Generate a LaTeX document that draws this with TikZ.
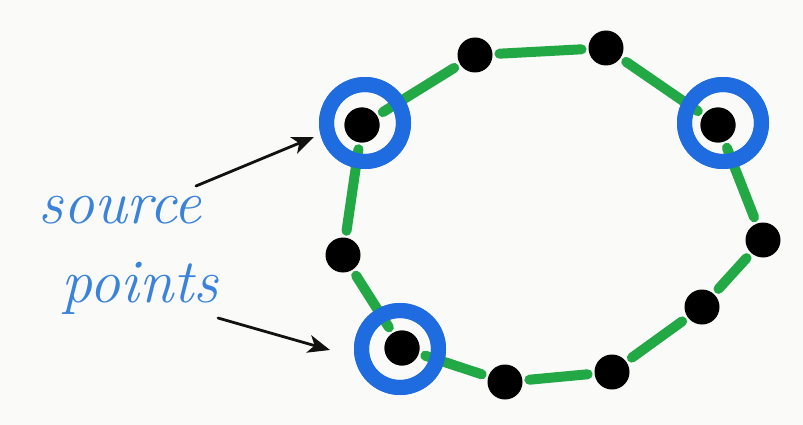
\documentclass[tikz,border=0pt]{standalone}
\usetikzlibrary{arrows.meta}
\definecolor{paper}{HTML}{FAFAF9}
\definecolor{ringblue}{HTML}{1F6CE0}
\definecolor{inkblue}{HTML}{3A82DC}
\definecolor{segGreen}{HTML}{22A845}
\definecolor{inkblack}{HTML}{111111}
\begin{document}
\begin{tikzpicture}[x=1pt,y=-1pt,
  dot/.style={circle,fill=black,inner sep=0pt,minimum size=35pt,outer sep=3pt},
  ring/.style={circle,draw=ringblue,line width=15pt,inner sep=0pt,minimum size=77pt},
  seg/.style={draw=segGreen,line width=10pt,line cap=round,shorten <=4pt,shorten >=4pt},
  pointer/.style={draw=inkblack,line width=2.8pt,line cap=round,
    -{Stealth[length=22pt,width=18pt,inset=6pt]}},
  label/.style={text=inkblue,font=\fontsize{62}{62}\selectfont\itshape,inner sep=0pt}]
  \fill[paper] (0,0) rectangle (803,425);
  \useasboundingbox (0,0) rectangle (803,425);

  % source rings
  \node[ring] (r1) at (365,123) {};
  \node[ring] (r4) at (723,123) {};
  \node[ring] (r9) at (400,349) {};

  % points on the loop
  \node[dot] (p1)  at (362,125) {};
  \node[dot] (p2)  at (475,55) {};
  \node[dot] (p3)  at (606,48) {};
  \node[dot] (p4)  at (718,125) {};
  \node[dot] (p5)  at (763,240) {};
  \node[dot] (p6)  at (702,307) {};
  \node[dot] (p7)  at (612,372) {};
  \node[dot] (p8)  at (505,382) {};
  \node[dot] (p9)  at (402,348) {};
  \node[dot] (p10) at (343,255) {};

  % green links
  \foreach \a/\b in {p1/p2,p2/p3,p3/p4,p4/p5,p5/p6,p6/p7,p7/p8,p8/p9,p9/p10,p10/p1}
    \draw[seg] (\a) -- (\b);

  % redraw rings over the links
  \node[ring] at (r1) {};
  \node[ring] at (r4) {};
  \node[ring] at (r9) {};
  \node[dot] at (p1) {};
  \node[dot] at (p4) {};
  \node[dot] at (p9) {};

  % labels and pointers
  \node[label] (t1) at (120,210) {source};
  \node[label] (t2) at (140,288) {points};
  \coordinate (a1s) at (196,186);
  \coordinate (a1e) at (314,137);
  \coordinate (a2s) at (218,318);
  \coordinate (a2e) at (330,350);
  \draw[pointer] (a1s) -- (a1e);
  \draw[pointer] (a2s) -- (a2e);
\end{tikzpicture}
\end{document}
